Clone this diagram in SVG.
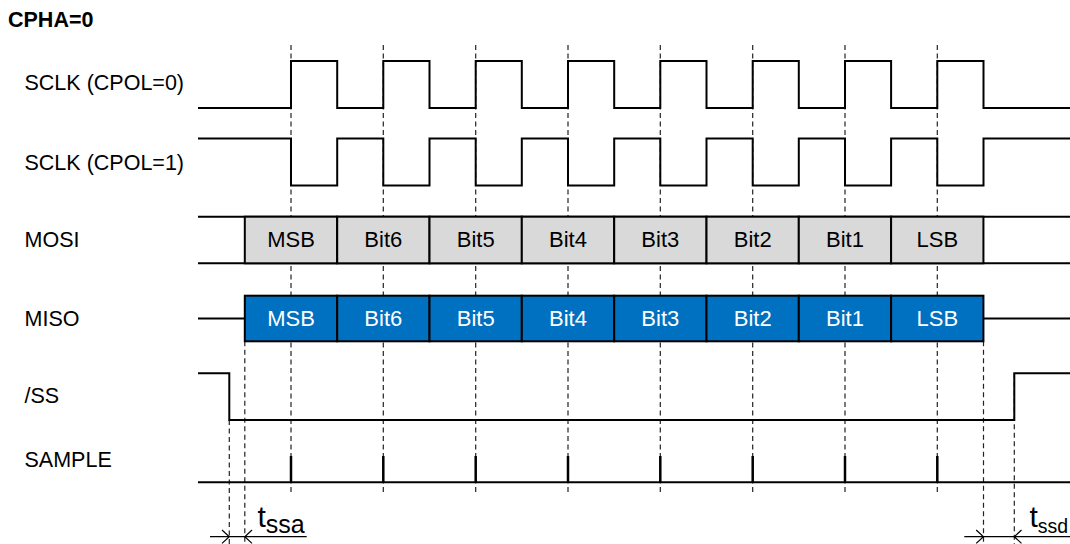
<svg xmlns="http://www.w3.org/2000/svg" width="1070" height="544" viewBox="0 0 1070 544">
<style>
text{font-family:"Liberation Sans",Arial,sans-serif;font-size:22px;fill:#000}
.lbl{font-size:21.5px}
.ttl{font-weight:bold;font-size:21.5px}
.sig{fill:none;stroke:#000;stroke-width:2}
.dash{fill:none;stroke:#222;stroke-width:1.2;stroke-dasharray:5,3.5}
.mosi{fill:#d9d9d9;stroke:#000;stroke-width:2}
.miso{fill:#0070c0;stroke:#000;stroke-width:2}
.bt{text-anchor:middle}
.wt{fill:#fff}
.tick{stroke:#000;stroke-width:2.5}
.tm{fill:none;stroke:#000;stroke-width:1.2}
.big{font-size:30px}
.sub{font-size:25px}
</style>
<rect width="1070" height="544" fill="#fff"/>
<g id="connectors">
<path class="dash" d="M291,45V495M383.3,45V495M475.7,45V495M568,45V495M660.3,45V495M752.7,45V495M845,45V495M937.3,45V495"/>
<path class="dash" d="M229.3,420V544M244.8,341.3V544M983.5,341.3V544M1014.3,373.3V544"/>
</g>
<text class="ttl" x="8" y="27.3">CPHA=0</text>
<g id="sclk0">
<text class="lbl" x="24.5" y="90">SCLK (CPOL=0)</text>
<path class="sig" d="M198,108H291V61H337.2V108H383.3V61H429.5V108H475.7V61H521.8V108H568V61H614.2V108H660.3V61H706.5V108H752.7V61H798.8V108H845V61H891.1V108H937.3V61H983.5V108H1070"/>
</g>
<g id="sclk1">
<text class="lbl" x="24.5" y="170">SCLK (CPOL=1)</text>
<path class="sig" d="M198,138.5H291V185.5H337.2V138.5H383.3V185.5H429.5V138.5H475.7V185.5H521.8V138.5H568V185.5H614.2V138.5H660.3V185.5H706.5V138.5H752.7V185.5H798.8V138.5H845V185.5H891.1V138.5H937.3V185.5H983.5V138.5H1070"/>
</g>
<g id="mosi">
<text class="lbl" x="24.5" y="247.3">MOSI</text>
<path class="sig" d="M198,216.7H1070M198,263.3H1070"/>
<rect class="mosi" x="244.8" y="216.7" width="92.33" height="46.6"/>
<rect class="mosi" x="337.2" y="216.7" width="92.33" height="46.6"/>
<rect class="mosi" x="429.5" y="216.7" width="92.33" height="46.6"/>
<rect class="mosi" x="521.8" y="216.7" width="92.33" height="46.6"/>
<rect class="mosi" x="614.2" y="216.7" width="92.33" height="46.6"/>
<rect class="mosi" x="706.5" y="216.7" width="92.33" height="46.6"/>
<rect class="mosi" x="798.8" y="216.7" width="92.33" height="46.6"/>
<rect class="mosi" x="891.1" y="216.7" width="92.33" height="46.6"/>
<text class="bt" x="291" y="247.3">MSB</text>
<text class="bt" x="383.3" y="247.3">Bit6</text>
<text class="bt" x="475.7" y="247.3">Bit5</text>
<text class="bt" x="568" y="247.3">Bit4</text>
<text class="bt" x="660.3" y="247.3">Bit3</text>
<text class="bt" x="752.7" y="247.3">Bit2</text>
<text class="bt" x="845" y="247.3">Bit1</text>
<text class="bt" x="937.3" y="247.3">LSB</text>
</g>
<g id="miso">
<text class="lbl" x="24.5" y="325.7">MISO</text>
<path class="sig" d="M198,318.5H244.8M983.5,318.5H1070"/>
<rect class="miso" x="244.8" y="295.7" width="92.33" height="45.6"/>
<rect class="miso" x="337.2" y="295.7" width="92.33" height="45.6"/>
<rect class="miso" x="429.5" y="295.7" width="92.33" height="45.6"/>
<rect class="miso" x="521.8" y="295.7" width="92.33" height="45.6"/>
<rect class="miso" x="614.2" y="295.7" width="92.33" height="45.6"/>
<rect class="miso" x="706.5" y="295.7" width="92.33" height="45.6"/>
<rect class="miso" x="798.8" y="295.7" width="92.33" height="45.6"/>
<rect class="miso" x="891.1" y="295.7" width="92.33" height="45.6"/>
<text class="bt wt" x="291" y="326.3">MSB</text>
<text class="bt wt" x="383.3" y="326.3">Bit6</text>
<text class="bt wt" x="475.7" y="326.3">Bit5</text>
<text class="bt wt" x="568" y="326.3">Bit4</text>
<text class="bt wt" x="660.3" y="326.3">Bit3</text>
<text class="bt wt" x="752.7" y="326.3">Bit2</text>
<text class="bt wt" x="845" y="326.3">Bit1</text>
<text class="bt wt" x="937.3" y="326.3">LSB</text>
</g>
<g id="ss">
<text class="lbl" x="24.5" y="403.3">/SS</text>
<path class="sig" d="M198,373.3H229.3V420H1014.3V373.3H1070"/>
</g>
<g id="sample">
<text class="lbl" x="24.5" y="467.3">SAMPLE</text>
<path class="sig" d="M198,482.3H1070"/>
<path class="tick" d="M291,456V482.3M383.3,456V482.3M475.7,456V482.3M568,456V482.3M660.3,456V482.3M752.7,456V482.3M845,456V482.3M937.3,456V482.3"/>
</g>
<g id="tssa">
<path class="tm" d="M210,536.7H306.7M222,530L229.3,536.7L222,543.4M252,530L244.8,536.7L252,543.4"/>
<text class="big" x="257.5" y="527">t<tspan class="sub" dy="6">ssa</tspan></text>
</g>
<g id="tssd">
<path class="tm" d="M964.3,536.7H1070M976.2,530L983.5,536.7L976.2,543.4M1021.5,530L1014.3,536.7L1021.5,543.4"/>
<text class="big" x="1029.5" y="527">t<tspan dy="6" font-size="19.5">ssd</tspan></text>
</g>
</svg>
